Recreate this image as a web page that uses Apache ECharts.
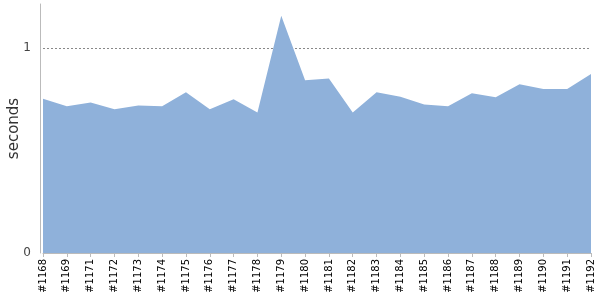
<!DOCTYPE html>
<html><head><meta charset="utf-8">
<script src="https://cdn.jsdelivr.net/npm/echarts@6/dist/echarts.min.js"></script>
<style>html,body{margin:0;padding:0;background:#fff}#c{width:600px;height:300px}</style>
</head><body><div id="c"></div>
<script>
const categories = ['#1168','#1169','#1171','#1172','#1173','#1174','#1175','#1176','#1177','#1178','#1179','#1180','#1181','#1182','#1183','#1184','#1185','#1186','#1187','#1188','#1189','#1190','#1191','#1192'];
const seconds = [0.753,0.716,0.734,0.701,0.72,0.716,0.784,0.701,0.75,0.686,1.158,0.843,0.851,0.686,0.784,0.763,0.725,0.716,0.779,0.76,0.824,0.80,0.80,0.873];
const yTicks = [0, 1];
const chart = echarts.init(document.getElementById('c'));
chart.setOption({
  animation: false,
  textStyle: { fontFamily: 'DejaVu Sans' },
  grid: { left: 43, right: 9, top: 4, bottom: 47, containLabel: false, outerBoundsMode: 'none' },
  xAxis: {
    type: 'category', data: categories, boundaryGap: false, offset: 2,
    axisLine: { show: true, lineStyle: { color: '#bbb', width: 1 } },
    axisTick: { show: true, length: 4, lineStyle: { color: '#bbb' } },
    axisLabel: { rotate: 90, interval: 0, fontSize: 10, color: '#000', margin: 4, fontFamily: 'DejaVu Sans' }
  },
  yAxis: {
    type: 'value', min: 0, max: 1.215, interval: 1, offset: 3,
    name: 'seconds', nameLocation: 'middle', nameGap: 18, nameMoveOverlap: false,
    nameTextStyle: { fontSize: 15, color: '#333', fontFamily: 'DejaVu Sans' },
    axisLine: { show: true, lineStyle: { color: '#bbb', width: 1 } },
    axisTick: { show: false },
    axisLabel: { fontSize: 12, color: '#444', margin: 9, showMaxLabel: false, padding: [4, 0, 0, 0],
      formatter: v => yTicks.includes(v) ? String(v) : '' },
    splitLine: { show: true, showMinLine: false, showMaxLine: false, lineStyle: { type: [2, 2], color: '#888', width: 1 } }
  },
  series: [{
    type: 'line', data: seconds, symbol: 'none',
    lineStyle: { width: 0, color: '#8fb1da' },
    itemStyle: { color: '#8fb1da' },
    areaStyle: { color: '#8fb1da', opacity: 1 }
  }]
});
</script></body></html>
